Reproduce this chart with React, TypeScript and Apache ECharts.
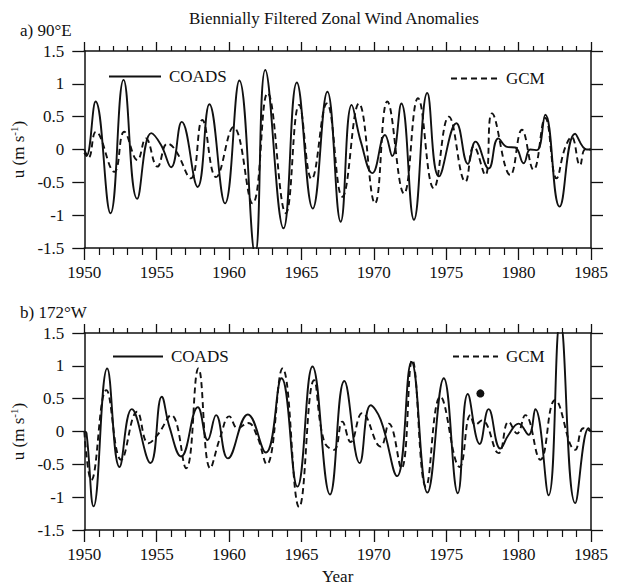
import React, { useEffect, useRef } from "react";
import * as echarts from "echarts";

const FONT = "'Liberation Serif', 'Times New Roman', serif";
const INK = "#111";

// Panel a) 90°E
const coadsAYears = [1950.0, 1950.15, 1950.78, 1951.81, 1952.71, 1953.65, 1954.62, 1955.3, 1956.0, 1956.73, 1957.83, 1958.64, 1959.72, 1960.71, 1961.8, 1962.5, 1963.76, 1964.68, 1965.78, 1966.79, 1967.71, 1968.47, 1969.1, 1969.9, 1970.77, 1971.27, 1971.9, 1972.77, 1973.69, 1974.49, 1975.7, 1976.5, 1977.02, 1977.93, 1978.6, 1979.2, 1979.77, 1980.35, 1980.8, 1981.27, 1981.84, 1982.83, 1983.9, 1984.7, 1985.0];
const coadsAValues = [-0.05, -0.1, 0.73, -0.97, 1.06, -0.75, 0.25, 0.07, -0.27, 0.42, -0.57, 0.69, -0.82, 1.05, -1.6, 1.21, -1.2, 1.02, -0.9, 0.88, -1.1, 0.68, 0.12, -0.36, 0.22, -0.1, 0.7, -1.07, 0.86, -0.41, 0.4, -0.22, 0.12, -0.29, 0.17, 0.04, 0.03, -0.21, 0.0, -0.01, 0.53, -0.87, 0.24, 0.0, 0.0];

const gcmAYears = [1950.0, 1950.3, 1950.8, 1952.07, 1952.76, 1953.67, 1954.25, 1955.05, 1955.74, 1956.3, 1957.35, 1958.15, 1959.1, 1960.3, 1961.62, 1962.66, 1963.92, 1964.84, 1965.7, 1966.75, 1967.82, 1968.97, 1970.08, 1970.93, 1972.08, 1973.05, 1974.14, 1975.18, 1976.33, 1976.9, 1977.7, 1978.16, 1979.43, 1980.23, 1981.03, 1981.84, 1982.62, 1983.2, 1983.66, 1984.24, 1984.6, 1985.0];
const gcmAValues = [0.0, -0.12, 0.27, -0.34, 0.27, -0.16, 0.17, -0.26, 0.09, -0.01, -0.44, 0.45, -0.42, 0.34, -0.82, 0.86, -0.97, 0.68, -0.45, 0.7, -0.72, 0.7, -0.82, 0.73, -0.67, 0.78, -0.59, 0.5, -0.49, 0.05, -0.39, 0.55, -0.39, 0.3, -0.31, 0.48, -0.44, 0.02, 0.19, -0.24, 0.0, 0.0];

// Panel b) 172°W
const coadsBYears = [1950.0, 1950.15, 1950.64, 1951.58, 1952.43, 1953.28, 1954.57, 1955.35, 1955.88, 1956.69, 1957.84, 1958.52, 1959.1, 1959.92, 1961.3, 1962.54, 1963.62, 1964.72, 1965.76, 1966.97, 1967.96, 1969.02, 1969.78, 1970.47, 1971.6, 1972.6, 1973.7, 1974.83, 1975.8, 1976.49, 1977.31, 1977.93, 1978.74, 1979.31, 1980.0, 1980.69, 1981.15, 1982.07, 1982.87, 1983.91, 1984.83, 1985.0];
const coadsBValues = [0.0, -0.02, -1.14, 0.96, -0.54, 0.34, -0.48, 0.53, 0.07, -0.38, 0.37, -0.13, 0.25, -0.41, 0.26, -0.32, 0.81, -0.84, 0.99, -0.96, 0.77, -0.48, 0.4, 0.18, -0.68, 1.06, -0.93, 0.81, -0.94, 0.57, -0.19, 0.34, -0.26, -0.05, 0.12, -0.05, 0.34, -0.97, 1.7, -1.09, 0.05, 0.0];

const gcmBYears = [1950.0, 1950.48, 1951.52, 1952.55, 1953.65, 1954.43, 1955.1, 1956.0, 1957.03, 1957.88, 1958.7, 1959.4, 1960.02, 1960.6, 1961.3, 1961.9, 1962.6, 1963.69, 1964.84, 1965.87, 1966.56, 1967.25, 1967.82, 1968.4, 1969.2, 1970.47, 1971.04, 1971.9, 1972.65, 1973.6, 1974.6, 1975.93, 1976.67, 1977.0, 1977.47, 1978.62, 1979.31, 1979.89, 1980.46, 1981.5, 1982.53, 1983.91, 1984.48, 1985.0];
const gcmBValues = [0.0, -0.74, 0.63, -0.43, 0.3, -0.18, -0.04, 0.25, -0.56, 0.96, -0.56, -0.08, 0.23, 0.05, 0.13, -0.05, -0.5, 0.96, -1.15, 0.78, -0.15, -0.28, 0.15, -0.16, 0.28, -0.23, 0.12, -0.56, 1.09, -0.84, 0.53, -0.54, 0.25, 0.1, 0.17, -0.33, 0.15, -0.03, 0.25, -0.43, 0.48, -0.28, 0.05, 0.0];

const dotYears = [1977.36];
const dotValues = [0.58];

const pairs = (xs: number[], ys: number[]) => xs.map((x, i) => [x, ys[i]]);

const labelStyle = { fontFamily: FONT, fontSize: 17, color: INK };

function makeXAxis(gridIndex: number, top: boolean, withName: boolean) {
  return {
    type: "value",
    gridIndex,
    position: top ? "top" : "bottom",
    min: 1950,
    max: 1985,
    interval: 5,
    name: withName ? "Year" : "",
    nameLocation: "middle",
    nameGap: 38,
    nameTextStyle: labelStyle,
    axisLine: { show: true, onZero: false, lineStyle: { color: INK, width: 1.5 } },
    axisTick: { show: true, inside: false, length: top ? 9 : 12, lineStyle: { color: INK, width: 1.3 } },
    minorTick: { show: true, splitNumber: 5, length: top ? 5 : 7, lineStyle: { color: INK, width: 1.2 } },
    axisLabel: { show: !top, margin: 16, formatter: (v: number) => String(v), ...labelStyle },
    splitLine: { show: false },
    minorSplitLine: { show: false },
  };
}

function makeYAxis(gridIndex: number, right: boolean) {
  return {
    type: "value",
    gridIndex,
    position: right ? "right" : "left",
    min: -1.5,
    max: 1.5,
    interval: 0.5,
    name: right ? "" : "u (m s{sup|-1})",
    nameLocation: "middle",
    nameRotate: 90,
    nameGap: 41,
    nameTextStyle: {
      ...labelStyle,
      rich: {
        sup: { fontFamily: FONT, fontSize: 11, color: INK, padding: [0, 0, 9, 0] },
      },
    },
    axisLine: { show: true, onZero: false, lineStyle: { color: INK, width: 1.5 } },
    axisTick: { show: true, inside: false, length: 12, lineStyle: { color: INK, width: 1.3 } },
    axisLabel: { show: !right, margin: 20, ...labelStyle },
    splitLine: { show: false },
  };
}

function lineSeries(name: string, xi: number, yi: number, data: number[][], dashed: boolean) {
  return {
    type: "line",
    name,
    xAxisIndex: xi,
    yAxisIndex: yi,
    data,
    smooth: 0.45,
    symbol: "none",
    clip: true,
    lineStyle: { color: INK, width: 1.9, type: dashed ? [6, 4] : "solid" },
    itemStyle: { color: INK },
  };
}

function legendAt(name: string, left: number, top: number, width: number) {
  return {
    data: [name],
    left,
    top,
    itemWidth: width,
    itemHeight: 14,
    itemGap: 0,
    selectedMode: false,
    itemStyle: { color: "rgba(0,0,0,0)", borderColor: "rgba(0,0,0,0)", borderWidth: 0, opacity: 0 },
    textStyle: { ...labelStyle, padding: [0, 0, 0, 3] },
    inactiveColor: INK,
  };
}

export default function App() {
  const ref = useRef<HTMLDivElement>(null);
  useEffect(() => {
    if (!ref.current) return;
    const chart = echarts.init(ref.current, undefined, { renderer: "svg" });
    chart.setOption({
      animation: false,
      backgroundColor: "#fff",
      title: {
        text: "Biennially Filtered Zonal Wind Anomalies",
        left: 184,
        top: 5,
        textStyle: { ...labelStyle, fontWeight: "normal", fontSize: 17 },
      },
      legend: [
        legendAt("COADS", 103, 63, 52),
        legendAt("GCM", 445, 65, 47),
        legendAt("COADS", 107, 343, 50),
        legendAt("GCM", 447, 343, 45),
      ],
      grid: [
        { left: 83, top: 51, width: 508, height: 197 },
        { left: 83, top: 333, width: 508, height: 197 },
      ],
      xAxis: [makeXAxis(0, false, false), makeXAxis(0, true, false), makeXAxis(1, false, true), makeXAxis(1, true, false)],
      yAxis: [makeYAxis(0, false), makeYAxis(0, true), makeYAxis(1, false), makeYAxis(1, true)],
      graphic: [
        { type: "text", left: 20, top: 22, style: { text: "a) 90°E", font: `17px ${FONT}`, fill: INK } },
        { type: "text", left: 20, top: 304, style: { text: "b) 172°W", font: `17px ${FONT}`, fill: INK } },
      ],
      series: [
        lineSeries("COADS", 0, 0, pairs(coadsAYears, coadsAValues), false),
        lineSeries("GCM", 0, 0, pairs(gcmAYears, gcmAValues), true),
        lineSeries("COADS", 2, 2, pairs(coadsBYears, coadsBValues), false),
        lineSeries("GCM", 2, 2, pairs(gcmBYears, gcmBValues), true),
        {
          type: "scatter",
          name: "dot",
          xAxisIndex: 2,
          yAxisIndex: 2,
          data: pairs(dotYears, dotValues),
          symbolSize: 8,
          itemStyle: { color: INK, opacity: 1 },
        },
      ],
    });
    return () => chart.dispose();
  }, []);
  return <div ref={ref} style={{ position: "absolute", left: 0, top: 0, width: 618, height: 586 }} />;
}
